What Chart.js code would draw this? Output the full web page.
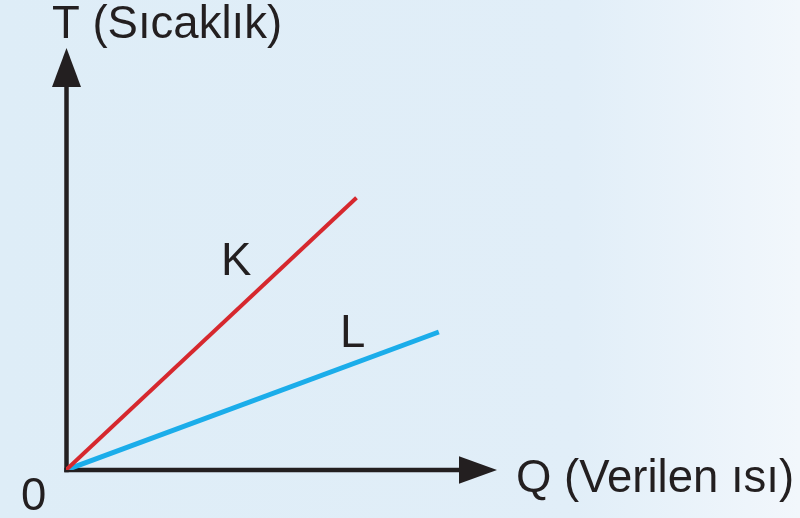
<!DOCTYPE html>
<html>
<head>
<meta charset="utf-8">
<script src="https://cdn.jsdelivr.net/npm/chart.js@4"></script>
<style>
  html, body { margin: 0; padding: 0; background: #deedf7; }
  canvas { display: block; }
</style>
</head>
<body>
<canvas id="c" width="800" height="518"></canvas>
<script>
// veriler (Q: verilen ısı, T: sıcaklık) - keyfi birimler
const qK = [0, 6.74];
const tK = [0, 6.45];
const qL = [0, 8.65];
const tL = [0, 3.27];

const seriesNames = ['K', 'L'];
const axisLabelY = 'T (Sıcaklık)';
const axisLabelX = 'Q (Verilen ısı)';
const originLabel = '0';

const FONT = '45.5px "Liberation Sans", Arial, sans-serif';
const INK = '#231f20';

const toPoints = (xs, ys) => xs.map((x, i) => ({ x: x, y: ys[i] }));

// arka plan + eksenler + yazılar
const diagramPlugin = {
  id: 'diagram',
  beforeDraw(chart) {
    const ctx = chart.ctx;
    const w = chart.width, h = chart.height;
    const g = ctx.createLinearGradient(0, 0, w, 0);
    g.addColorStop(0, '#deedf7');
    g.addColorStop(0.72, '#e1eef8');
    g.addColorStop(1, '#f2f7fc');
    ctx.save();
    ctx.fillStyle = g;
    ctx.fillRect(0, 0, w, h);
    ctx.restore();
  },
  beforeDatasetsDraw(chart) {
    const ctx = chart.ctx;
    const xs = chart.scales.x, ys = chart.scales.y;
    const ox = xs.getPixelForValue(0) + 0.5;
    const oy = ys.getPixelForValue(0);
    const tipY = chart.chartArea.top;
    const tipX = chart.chartArea.right;

    ctx.save();
    ctx.strokeStyle = INK;
    ctx.fillStyle = INK;
    ctx.lineWidth = 4.5;
    ctx.lineCap = 'butt';

    // dikey eksen
    ctx.beginPath();
    ctx.moveTo(ox, oy + 2.2);
    ctx.lineTo(ox, tipY + 38);
    ctx.stroke();
    ctx.beginPath();
    ctx.moveTo(ox, tipY);
    ctx.lineTo(ox - 14.5, tipY + 39);
    ctx.lineTo(ox + 14.5, tipY + 39);
    ctx.closePath();
    ctx.fill();

    // yatay eksen
    ctx.beginPath();
    ctx.moveTo(ox - 2.2, oy);
    ctx.lineTo(tipX - 37, oy);
    ctx.stroke();
    ctx.beginPath();
    ctx.moveTo(tipX, oy);
    ctx.lineTo(tipX - 38, oy - 13.8);
    ctx.lineTo(tipX - 38, oy + 13.8);
    ctx.closePath();
    ctx.fill();
    ctx.restore();
  },
  afterDatasetsDraw(chart) {
    const ctx = chart.ctx;
    const xs = chart.scales.x, ys = chart.scales.y;
    const ox = xs.getPixelForValue(0);
    const oy = ys.getPixelForValue(0);
    ctx.save();
    ctx.fillStyle = INK;
    ctx.font = FONT;
    ctx.textBaseline = 'alphabetic';
    ctx.textAlign = 'left';
    ctx.fillText(axisLabelY, ox - 14, 38);
    ctx.fillText(axisLabelX, chart.chartArea.right + 19, oy + 22);
    ctx.fillText(originLabel, ox - 45, oy + 40);
    // seri etiketleri
    ctx.fillText(seriesNames[0], 221, 275);
    ctx.fillText(seriesNames[1], 340, 347);
    ctx.restore();
  }
};

new Chart(document.getElementById('c').getContext('2d'), {
  type: 'scatter',
  data: {
    datasets: [
      {
        label: seriesNames[0],
        data: toPoints(qK, tK),
        showLine: true,
        borderColor: '#d6282e',
        borderWidth: 4,
        pointRadius: 0,
        borderCapStyle: 'butt'
      },
      {
        label: seriesNames[1],
        data: toPoints(qL, tL),
        showLine: true,
        borderColor: '#1badea',
        borderWidth: 5,
        pointRadius: 0,
        borderCapStyle: 'butt'
      }
    ]
  },
  options: {
    responsive: false,
    animation: false,
    layout: { padding: { left: 66, right: 303, top: 48, bottom: 48 } },
    plugins: {
      legend: { display: false },
      tooltip: { enabled: false }
    },
    scales: {
      x: { type: 'linear', min: 0, max: 10, display: false },
      y: { type: 'linear', min: 0, max: 10, display: false }
    }
  },
  plugins: [diagramPlugin]
});
</script>
</body>
</html>
